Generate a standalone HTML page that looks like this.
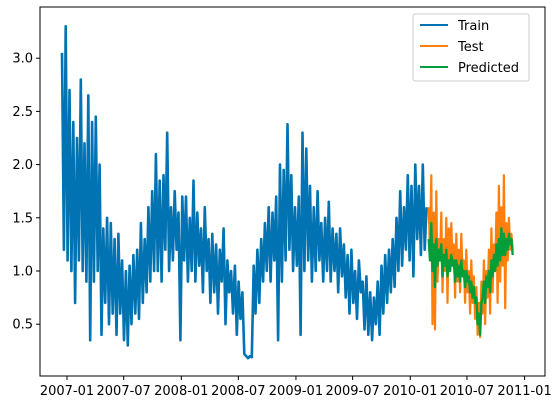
<!DOCTYPE html>
<html><head><meta charset="utf-8"><style>
html,body{margin:0;padding:0;background:#fff;}
svg{display:block;font-family:"DejaVu Sans","Liberation Sans",sans-serif;}
</style></head><body>
<svg id="chart" width="560" height="403" xmlns="http://www.w3.org/2000/svg">
<rect width="560" height="403" fill="#fff"/>
<g id="marks"></g>
<rect x="40" y="7" width="505" height="369" fill="none" stroke="#000" stroke-width="1"/>
<g id="axes"></g>
<g>
<rect x="413" y="14" width="116" height="67" rx="2" fill="#fff" fill-opacity="0.8" stroke="#ccc"/>
<line x1="420" y1="25" x2="448" y2="25" stroke="#0173b2" stroke-width="2"/>
<text x="458" y="30" font-size="13">Train</text>
<line x1="420" y1="46" x2="448" y2="46" stroke="#ff7f0e" stroke-width="2"/>
<text x="458" y="51" font-size="13">Test</text>
<line x1="420" y1="67" x2="448" y2="67" stroke="#029e3a" stroke-width="2"/>
<text x="458" y="72" font-size="13">Predicted</text>
</g>
</svg>
<script>
const trainStart = "2006-12-16";
const trainStepDays = 6;
const trainValues = [
3.05,1.2,3.3,1.1,2.7, 1.0,2.4,0.7,2.25,1.1, 2.8,1.0,2.2,0.9,2.65, 0.35,2.4,0.9,2.45,1.0,
2.0,0.4,1.4,0.7,1.5, 0.5,1.45,0.6,1.3,0.4, 1.35,0.6,1.1,0.35,1.0, 0.3,1.05,0.5,1.15,0.6,
1.2,0.55,1.45,0.7,1.3, 0.8,1.6,0.9,1.75,1.0, 2.1,1.0,1.85,0.9,1.9, 1.2,2.3,1.0,1.6,1.1,
1.75,1.2,1.55,0.35,1.7, 1.1,1.7,0.9,1.5,1.0, 1.85,0.9,1.55,1.05,1.4, 0.8,1.6,1.0,1.3,0.7,
1.35,0.8,1.25,0.6,1.2, 0.9,1.4,0.5,1.1,0.8, 1.0,0.6,1.05,0.4,0.9, 0.55,0.8,0.22,0.2,0.18,
0.2,0.19,1.05,0.6,1.2, 0.7,1.3,0.9,1.45,1.0, 1.6,0.9,1.55,1.1,1.7, 0.35,2.0,0.9,1.95,1.1,
2.38,1.2,1.9,1.0,1.6, 1.05,1.7,0.4,2.3,1.0, 2.15,1.1,1.8,0.9,1.6, 1.0,1.75,1.1,1.45,0.9,
1.5,1.0,1.65,0.9,1.4, 1.0,1.35,0.8,1.4,0.95, 1.25,0.75,1.15,0.6,1.2, 0.7,1.0,0.55,1.1,0.8,
0.9,0.45,0.95,0.4,0.8, 0.35,0.75,0.5,0.9,0.4, 1.05,0.6,1.15,0.7,1.2, 0.8,1.3,0.85,1.5,1.0,
1.75,1.05,1.6,1.2,1.9, 1.1,1.8,0.95,2.0,1.3, 1.8,1.15,2.0,1.2,1.6
];
const testStart = "2010-03-01";
const testStepDays = 4;
const testValues = [1.6,1.2,1.9,0.5,1.55,0.45,1.75,0.9,1.3,1.1,1.55,0.8,1.3,1.0,1.5,0.7,1.4,1.0,1.45,1.1,1.25,0.75,1.35,0.9,1.2,0.8,1.35,0.95,1.1,0.7,1.2,0.8,1.0,0.6,1.1,0.7,0.95,0.55,0.85,0.4,0.7,0.38,0.9,0.6,1.1,0.5,1.0,0.75,1.2,0.6,1.4,0.8,1.25,1.0,1.55,0.7,1.8,0.9,1.6,1.05,1.9,0.65,1.45,1.1,1.5,1.2,1.35,1.2];
const predValues = [1.3,1.1,1.45,1.0,1.25,0.85,1.3,1.05,1.2,1.1,1.25,0.95,1.15,1.05,1.2,0.95,1.1,1.0,1.15,1.05,1.1,0.9,1.1,0.95,1.05,0.9,1.1,0.95,1.0,0.85,1.0,0.9,0.95,0.8,0.9,0.75,0.85,0.7,0.75,0.5,0.6,0.4,0.7,0.75,0.9,0.7,0.95,0.85,1.0,0.8,1.1,0.95,1.15,1.0,1.25,1.05,1.3,1.1,1.4,1.15,1.35,1.15,1.3,1.2,1.35,1.25,1.3,1.15];
const yTicks = [0.5,1.0,1.5,2.0,2.5,3.0];
const xTicks = ["2007-01","2007-07","2008-01","2008-07","2009-01","2009-07","2010-01","2010-07","2011-01"];

const NS="http://www.w3.org/2000/svg";
const DAY=86400000;
const t0=Date.parse("2007-01-01");
function xs(ms){return 67+(ms-t0)/DAY*0.3132;}
function ys(v){return 271-(v-1)*106.4;}
function series(start,step,vals){const s=Date.parse(start);return vals.map((v,i)=>[xs(s+i*step*DAY),ys(v)]);}
const marks=document.getElementById('marks');
function line(pts,color,name,w){
  const p=document.createElementNS(NS,'path');
  p.setAttribute('d',pts.map((q,i)=>(i?'L':'M')+q[0].toFixed(1)+' '+q[1].toFixed(1)).join(''));
  p.setAttribute('fill','none');p.setAttribute('stroke',color);p.setAttribute('stroke-width',w);p.setAttribute('stroke-linejoin','round');
  
  
  marks.appendChild(p);
}
line(series(trainStart,trainStepDays,trainValues),'#0173b2','train-line','2.6');
line(series(testStart,testStepDays,testValues),'#ff7f0e','test-line','2.2');
line(series(testStart,testStepDays,predValues),'#029e3a','predicted-line','2.4');
const axes=document.getElementById('axes');
yTicks.forEach(v=>{
  const y=ys(v);
  const l=document.createElementNS(NS,'line');
  l.setAttribute('x1',36);l.setAttribute('x2',40);l.setAttribute('y1',y);l.setAttribute('y2',y);l.setAttribute('stroke','#000');
  
  
  axes.appendChild(l);
  const t=document.createElementNS(NS,'text');
  t.setAttribute('x',33);t.setAttribute('y',y+4.5);t.setAttribute('text-anchor','end');t.setAttribute('font-size','13');
  t.textContent=v.toFixed(1);
  
  
  axes.appendChild(t);
});
xTicks.forEach(s=>{
  const x=xs(Date.parse(s+"-01"));
  const l=document.createElementNS(NS,'line');
  l.setAttribute('x1',x);l.setAttribute('x2',x);l.setAttribute('y1',376);l.setAttribute('y2',380);l.setAttribute('stroke','#000');
  
  
  axes.appendChild(l);
  const t=document.createElementNS(NS,'text');
  t.setAttribute('x',x);t.setAttribute('y',395);t.setAttribute('text-anchor','middle');t.setAttribute('font-size','13');
  t.textContent=s;
  
  
  axes.appendChild(t);
});
</script>
</body></html>
